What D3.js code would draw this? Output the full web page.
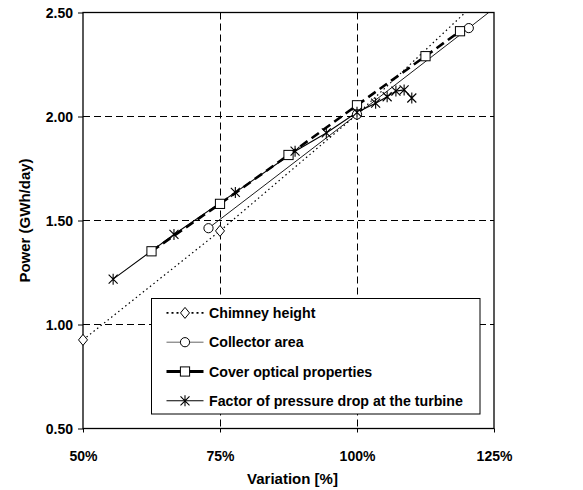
<!DOCTYPE html>
<html>
<head>
<meta charset="utf-8">
<script src="https://cdn.jsdelivr.net/npm/d3@7"></script>
<style>
  body { margin: 0; background: #fff; }
  svg { font-family: "Liberation Sans", Arial, sans-serif; font-weight: bold; }
  .tick text { font-size: 14px; fill: #000; }
</style>
</head>
<body>
<div id="chart"></div>
<script>
// variation in %, power in GWh/day
const chimneyVar = [50, 75, 100, 125];
const chimneyPower = [0.926, 1.45, 2.01, 2.63];

const collectorVar = [72.9, 100, 120.4, 140];
const collectorPower = [1.463, 2.01, 2.425, 2.83];

const coverVar = [62.5, 75, 87.5, 100, 112.5, 118.8];
const coverPower = [1.352, 1.58, 1.815, 2.054, 2.29, 2.41];

const factorVar = [55.5, 66.6, 77.8, 88.7, 94.4, 100, 103.4, 105.5, 107.1, 108.6, 110];
const factorPower = [1.218, 1.433, 1.635, 1.833, 1.921, 2.02, 2.064, 2.095, 2.122, 2.128, 2.089];

const xTicks = [50, 75, 100, 125];
const yTicks = [0.5, 1.0, 1.5, 2.0, 2.5];
const xGrid = [75, 100];
const yGrid = [1.0, 1.5, 2.0];

const seriesNames = [
  "Chimney height",
  "Collector area",
  "Cover optical properties",
  "Factor of pressure drop at the turbine",
];

const zip = (xs, ys) => xs.map((x, i) => ({ x, y: ys[i] }));

const series = [
  { name: seriesNames[0], marker: "diamond", data: zip(chimneyVar, chimneyPower),
    width: 1.2, dash: "1.5,3", legendDash: "2,3", legendWidth: 1.6 },
  { name: seriesNames[1], marker: "circle", data: zip(collectorVar, collectorPower),
    width: 0.9, dash: null, legendDash: null, legendWidth: 1, legendColor: "#666" },
  { name: seriesNames[2], marker: "square", data: zip(coverVar, coverPower),
    width: 2.6, dash: "9,5", legendDash: null, legendWidth: 3.2 },
  { name: seriesNames[3], marker: "star", data: zip(factorVar, factorPower),
    width: 1.1, dash: null, legendDash: null, legendWidth: 1.1 },
];

const W = 583, H = 490;
const margin = { top: 12.5, right: 89, bottom: 62, left: 83 };
const width = W - margin.left - margin.right;
const height = 416;

const x = d3.scaleLinear().domain([50, 125]).range([0, width]);
const y = d3.scaleLinear().domain([0.5, 2.5]).range([height, 0]);

const svg = d3.select("#chart").append("svg").attr("width", W).attr("height", H);
const g = svg.append("g").attr("transform", `translate(${margin.left},${margin.top})`);

svg.append("defs").append("clipPath").attr("id", "plot-clip")
  .append("rect").attr("width", width).attr("height", height);

// grid
g.append("g").selectAll("line").data(xGrid).join("line")
  .attr("x1", (d) => Math.round(x(d)) + 0.5).attr("x2", (d) => Math.round(x(d)) + 0.5)
  .attr("y1", 0).attr("y2", height)
  .attr("stroke", "#000").attr("stroke-dasharray", "7,4");
g.append("g").selectAll("line").data(yGrid).join("line")
  .attr("x1", 0).attr("x2", width)
  .attr("y1", (d) => y(d)).attr("y2", (d) => y(d))
  .attr("stroke", "#000").attr("stroke-dasharray", "7,4");

// axes
g.append("g").attr("transform", `translate(0,${height})`)
  .call(d3.axisBottom(x).tickValues(xTicks).tickFormat((d) => d + "%").tickSize(4).tickSizeOuter(0))
  .call((a) => a.select(".domain").remove())
  .call((a) => a.selectAll(".tick line").attr("stroke", "#000"))
  .call((a) => a.selectAll(".tick text").attr("dy", "1.85em"));
g.append("g")
  .call(d3.axisLeft(y).tickValues(yTicks).tickFormat(d3.format(".2f")).tickSize(5).tickSizeOuter(0))
  .call((a) => a.select(".domain").remove())
  .call((a) => a.selectAll(".tick line").attr("stroke", "#000"))
  .call((a) => a.selectAll(".tick text").attr("x", -10).attr("dy", "0.36em"));

g.append("rect").attr("width", width).attr("height", height)
  .attr("fill", "none").attr("stroke", "#000").attr("stroke-width", 1.3);

function drawMarker(sel, type) {
  if (type === "circle") {
    sel.append("circle").attr("r", 4.6).attr("fill", "#fff").attr("stroke", "#000");
  } else if (type === "square") {
    sel.append("rect").attr("x", -4.6).attr("y", -4.6).attr("width", 9.2).attr("height", 9.2)
      .attr("fill", "#fff").attr("stroke", "#000");
  } else if (type === "diamond") {
    sel.append("path").attr("d", "M0,-5.5L4.5,0L0,5.5L-4.5,0Z")
      .attr("fill", "#fff").attr("stroke", "#000");
  } else {
    sel.append("path").attr("d", "M-4.5,-4.5L4.5,4.5M-4.5,4.5L4.5,-4.5M0,-5.5L0,5.5")
      .attr("fill", "none").attr("stroke", "#000").attr("stroke-width", 1.1);
  }
}

// series: lines clipped to the plot, markers only where inside the axes
const plot = g.append("g").attr("clip-path", "url(#plot-clip)");
const markers = g.append("g");
const line = d3.line().x((d) => x(d.x)).y((d) => y(d.y));
const inside = (d) => d.x >= 50 && d.x <= 125 && d.y >= 0.5 && d.y <= 2.5;

series.forEach((s) => {
  plot.append("path").datum(s.data)
    .attr("d", line)
    .attr("fill", "none")
    .attr("stroke", "#000")
    .attr("stroke-width", s.width)
    .attr("stroke-dasharray", s.dash);
  markers.append("g").selectAll("g").data(s.data.filter(inside)).join("g")
    .attr("transform", (d) => `translate(${x(d.x)},${y(d.y)})`)
    .each(function () { drawMarker(d3.select(this), s.marker); });
});

// legend
const legend = g.append("g").attr("transform", `translate(${151.5 - margin.left},${298.5 - margin.top})`);
legend.append("rect").attr("width", 328.5).attr("height", 115.5)
  .attr("fill", "#fff").attr("stroke", "#000").attr("stroke-width", 1);
const item = legend.selectAll(".item").data(series).join("g")
  .attr("class", "item")
  .attr("transform", (d, i) => `translate(0,${14.4 + i * 29.3})`);
item.append("line")
  .attr("x1", 15).attr("x2", 52)
  .attr("stroke", (d) => d.legendColor || "#000")
  .attr("stroke-width", (d) => d.legendWidth)
  .attr("stroke-dasharray", (d) => d.legendDash);
item.append("g").attr("transform", "translate(33.5,0)")
  .each(function (d) { drawMarker(d3.select(this), d.marker); });
item.append("text")
  .attr("x", 57.5).attr("dy", "0.36em")
  .attr("font-size", 14.2)
  .text((d) => d.name);

// axis titles
svg.append("text")
  .attr("x", margin.left + width / 2 + 4).attr("y", 484)
  .attr("text-anchor", "middle").attr("font-size", 15)
  .text("Variation [%]");
svg.append("text")
  .attr("transform", `translate(30,${margin.top + height / 2}) rotate(-90)`)
  .attr("text-anchor", "middle").attr("font-size", 15)
  .text("Power (GWh/day)");
</script>
</body>
</html>
